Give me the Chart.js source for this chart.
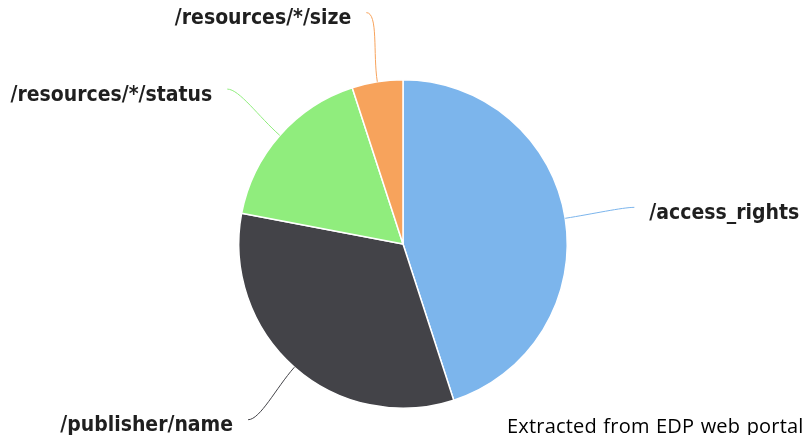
<!DOCTYPE html>
<html>
<head>
<meta charset="utf-8">
<title>Field usage</title>
<script src="https://cdn.jsdelivr.net/npm/chart.js@4.4.1/dist/chart.umd.min.js"></script>
<style>
  html, body { margin: 0; padding: 0; background: #fff; overflow: hidden; }
  #wrap { position: relative; width: 803px; height: 435px; overflow: hidden; }
  #source {
    position: absolute;
    left: 507px;
    top: 416px;
    font-family: "Open Sans", "Liberation Sans", sans-serif;
    font-size: 20px;
    line-height: 20px;
    letter-spacing: 0.2px;
    word-spacing: 1px;
    color: #000;
    white-space: nowrap;
  }
</style>
</head>
<body>
<div id="wrap">
  <canvas id="pie" width="803" height="435"></canvas>
  <div id="source">Extracted from EDP web portal</div>
</div>
<script>
const labels = ["/access_rights", "/publisher/name", "/resources/*/status", "/resources/*/size"]
const shares = [45, 33, 17, 5]
const colors = ["#7cb5ec", "#434348", "#90ed7d", "#f7a35c"]

// --- Outside labels with soft connectors, highcharts style ---
const outsideLabels = {
  id: "outsideLabels",
  afterDatasetsDraw(chart, args, opts) {
    const { ctx } = chart
    const arcs = chart.getDatasetMeta(0).data
    ctx.save()
    ctx.font = opts.font
    ctx.textBaseline = "middle"
    arcs.forEach((arc, i) => {
      const { x, y, startAngle, endAngle, outerRadius } = arc.getProps(
        ["x", "y", "startAngle", "endAngle", "outerRadius"], true)
      const mid = (startAngle + endAngle) / 2
      const cos = Math.cos(mid)
      const sin = Math.sin(mid)
      const side = cos >= 0 ? 1 : -1

      // point on the rim, a bit further out, and the label anchor
      const ex = x + cos * outerRadius
      const ey = y + sin * outerRadius
      const bx = x + cos * (outerRadius + 28)
      const by = y + sin * (outerRadius + 28)
      const lx = x + cos * (outerRadius + opts.distance)
      const ly = y + sin * (outerRadius + opts.distance)

      ctx.strokeStyle = colors[i]
      ctx.lineWidth = 1
      ctx.beginPath()
      ctx.moveTo(lx, ly)
      ctx.bezierCurveTo(lx - side * 12, ly, bx, by, ex, ey)
      ctx.stroke()

      ctx.fillStyle = opts.color
      ctx.textAlign = side > 0 ? "left" : "right"
      ctx.fillText(labels[i], lx + side * opts.gap, ly + opts.lift)
    })
    ctx.restore()
  },
}

new Chart(document.getElementById("pie"), {
  type: "pie",
  plugins: [outsideLabels],
  data: {
    labels: labels,
    datasets: [
      {
        data: shares,
        backgroundColor: colors,
        borderColor: "#ffffff",
        borderWidth: 1.5,
        hoverOffset: 0,
      },
    ],
  },
  options: {
    responsive: false,
    animation: false,
    layout: { padding: { top: 79, bottom: 26, left: 3, right: 0 } },
    plugins: {
      legend: { display: false },
      tooltip: { enabled: false },
      outsideLabels: {
        font: 'bold 21px "DejaVu Sans Condensed", "DejaVu Sans", sans-serif',
        color: "#1f1f1f",
        distance: 70,
        gap: 15,
        lift: 6,
      },
    },
  },
})
</script>
</body>
</html>
